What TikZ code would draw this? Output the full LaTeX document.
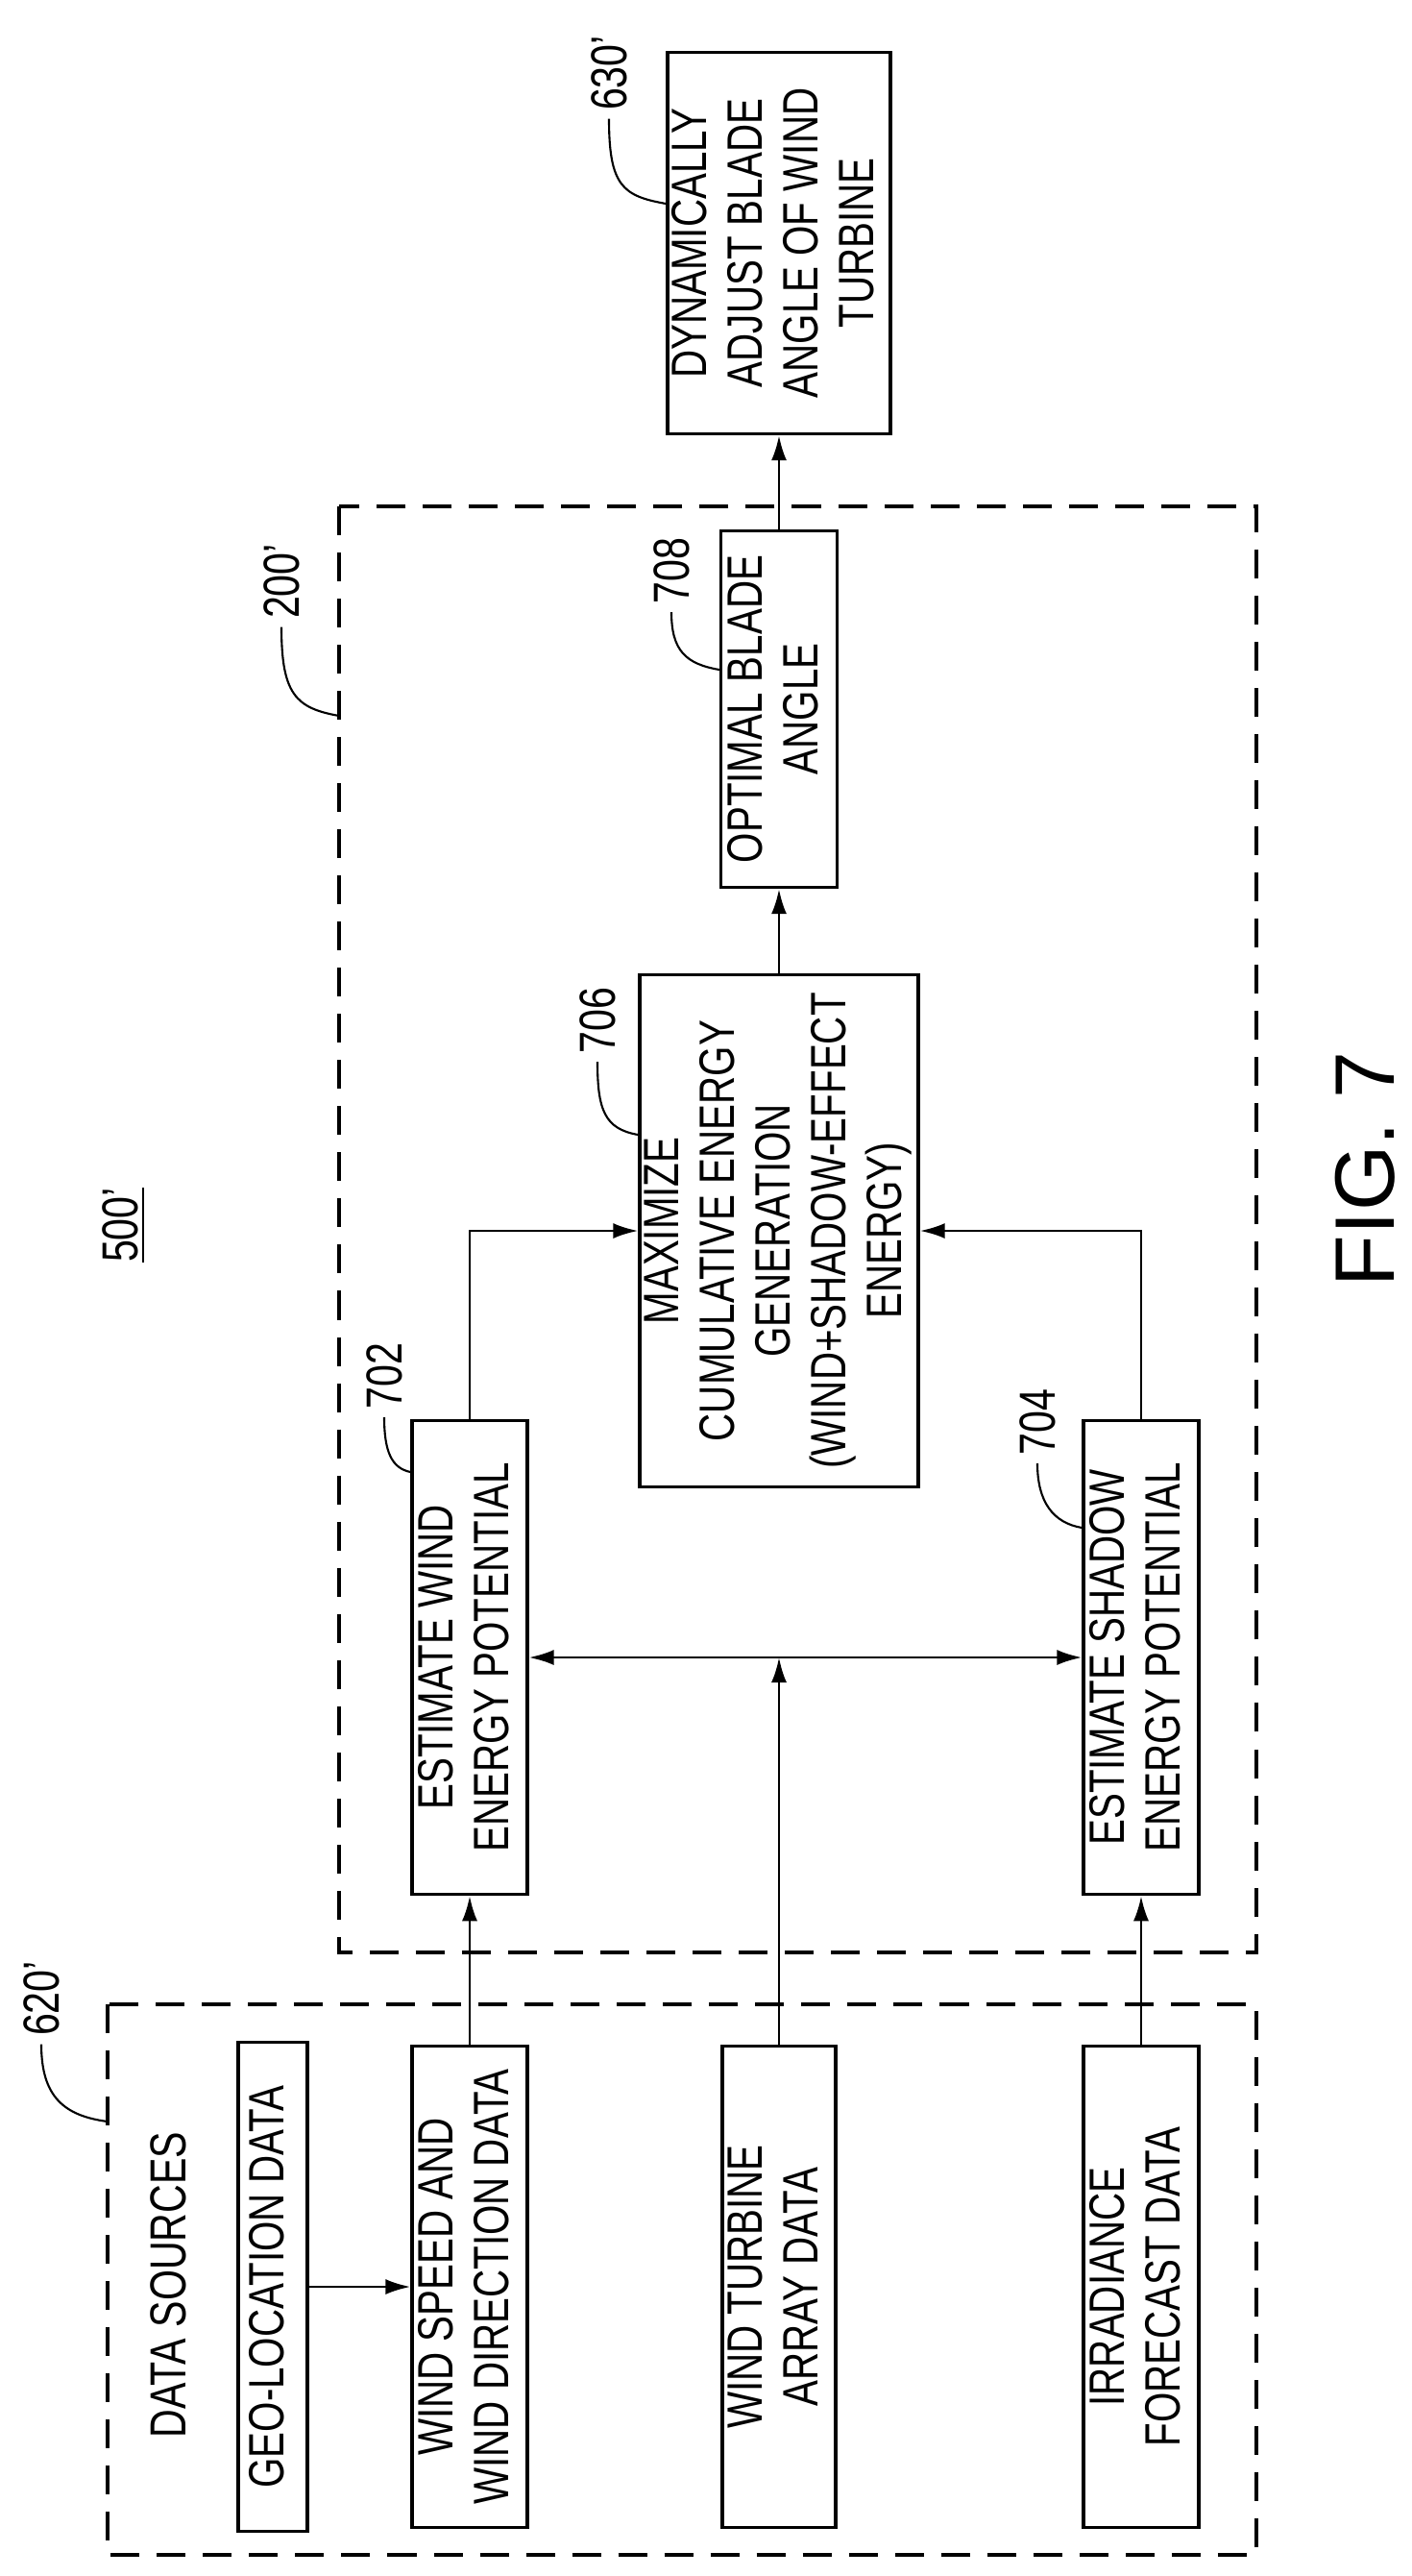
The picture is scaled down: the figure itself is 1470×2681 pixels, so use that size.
\documentclass[tikz,border=0pt]{standalone}
\usepackage{fontspec}
\setmainfont{Liberation Sans}[FakeStretch=0.78]
\newfontfamily\figfont{Liberation Sans}
\usetikzlibrary{arrows.meta}
\begin{document}
\begin{tikzpicture}[x=0.01cm,y=-0.01cm,
  box/.style={draw,line width=0.9pt,inner sep=0pt,align=center,font=\fontsize{14.7}{16.5}\selectfont},
  dbox/.style={draw,line width=1pt,dash pattern=on 0.3cm off 0.18cm},
  arr/.style={line width=0.8pt,-{Latex[length=0.26cm,width=0.16cm]}},
  darr/.style={line width=0.8pt,{Latex[length=0.26cm,width=0.16cm]}-{Latex[length=0.26cm,width=0.16cm]}},
  lead/.style={line width=0.6pt},
  lab/.style={rotate=90,inner sep=0pt,font=\fontsize{15}{17}\selectfont}]
\useasboundingbox (0,0) rectangle (1470,2681);
\fill[white] (0,0) rectangle (1470,2681);
\newcommand{\rt}[1]{\rotatebox{90}{\begin{tabular}{@{}c@{}}#1\end{tabular}}}
% dashed containers
\draw[dbox] (353,527) rectangle (1308,2032);
\draw[dbox] (112,2086) rectangle (1308,2659);
% boxes
\node[box,minimum width=2.14cm,minimum height=3.97cm] (n630) at (811,253) {\rt{DYNAMICALLY\\ADJUST BLADE\\ANGLE OF WIND\\TURBINE}};
\node[box,minimum width=1.21cm,minimum height=3.71cm] (n708) at (811,738) {\rt{OPTIMAL BLADE\\ANGLE}};
\node[box,minimum width=2.73cm,minimum height=5.32cm] (n706) at (811,1281) {\rt{MAXIMIZE\\CUMULATIVE ENERGY\\GENERATION\\(WIND+SHADOW-EFFECT\\ENERGY)}};
\node[box,minimum width=1.20cm,minimum height=4.93cm] (n702) at (489,1725) {\rt{ESTIMATE WIND\\ENERGY POTENTIAL}};
\node[box,minimum width=1.20cm,minimum height=4.93cm] (n704) at (1188,1725) {\rt{ESTIMATE SHADOW\\ENERGY POTENTIAL}};
\node[box,minimum width=0.72cm,minimum height=5.09cm] (geo) at (284,2380) {\rt{GEO-LOCATION DATA}};
\node[box,minimum width=1.20cm,minimum height=5.01cm] (ws) at (489,2380) {\rt{WIND SPEED AND\\WIND DIRECTION DATA}};
\node[box,minimum width=1.18cm,minimum height=5.01cm] (ar) at (811,2380) {\rt{WIND TURBINE\\ARRAY DATA}};
\node[box,minimum width=1.20cm,minimum height=5.01cm] (irr) at (1188,2380) {\rt{IRRADIANCE\\FORECAST DATA}};
\node[lab] (ds) at (175,2378) {DATA SOURCES};
% connectors
\draw[arr] (geo.east) -- (ws.west);
\draw[arr] (ws.north) -- (n702.south);
\draw[arr] (irr.north) -- (n704.south);
\coordinate (j) at (ar.north|-n702.east);
\draw[arr] (ar.north) -- (j);
\draw[darr] (n702.east) -- (n704.west);
\draw[arr] (n702.north) |- (n706.west);
\draw[arr] (n704.north) |- (n706.east);
\draw[arr] (n706.north) -- (n708.south);
\draw[arr] (n708.north) -- (n630.south);
% reference labels
\coordinate (c200) at (353,745);
\coordinate (c620) at (112,2208);
\node[lab] (l630) at (634,76) {630'};
\draw[lead] (l630.west) ++(0,8) .. controls +(0,70) and +(-45,-8) .. (n630.west|-0,212);
\node[lab] (l200) at (293,605) {200'};
\draw[lead] (l200.west) ++(0,8) .. controls +(0,70) and +(-45,-8) .. (c200);
\node[lab] (l708) at (699,594) {708};
\draw[lead] (l708.west) ++(0,8) .. controls +(0,40) and +(-35,-6) .. (n708.west|-0,697);
\node[lab] (l706) at (622,1062) {706};
\draw[lead] (l706.west) ++(0,8) .. controls +(0,50) and +(-35,-6) .. (n706.west|-0,1181);
\node[lab] (l702) at (400,1432) {702};
\draw[lead] (l702.west) ++(0,8) .. controls +(0,35) and +(-20,-4) .. (n702.west|-0,1532);
\node[lab] (l704) at (1080,1480) {704};
\draw[lead] (l704.west) ++(0,8) .. controls +(0,40) and +(-30,-5) .. (n704.west|-0,1590);
\node[lab] (l620) at (43,2080) {620'};
\draw[lead] (l620.west) ++(0,8) .. controls +(0,55) and +(-45,-6) .. (c620);
\node[lab] (l500) at (129,1275) {\underline{500'}};
\node[rotate=90,inner sep=0pt,font=\figfont\fontsize{25}{28}\selectfont] (fig) at (1421,1217) {FIG. 7};
\end{tikzpicture}
\end{document}
